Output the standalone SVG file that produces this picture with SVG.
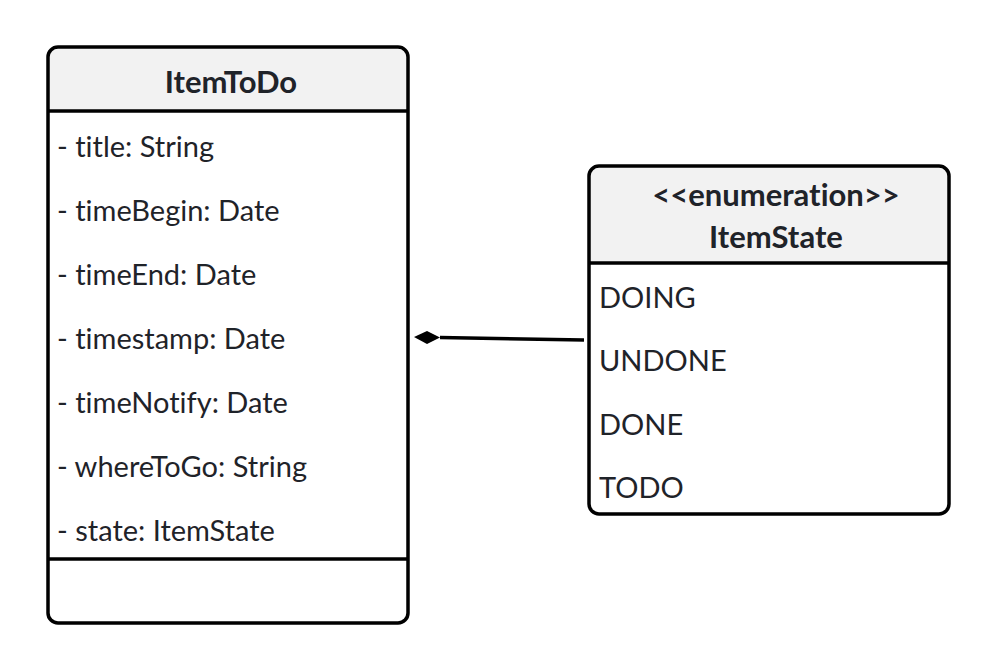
<svg xmlns="http://www.w3.org/2000/svg" width="998" height="672" viewBox="0 0 998 672">
<style>
.box{fill:none;stroke:#000;stroke-width:3.5}
.hdr{fill:#f2f2f2}
.div{stroke:#000;stroke-width:3.5}
text{font-family:Lato,"Noto Sans",sans-serif;font-size:29px;fill:#1f2329;font-variant-ligatures:none;font-feature-settings:"liga" 0}
.b{font-weight:bold;text-anchor:middle;font-size:31px}
</style>
<rect width="998" height="672" fill="#ffffff"/>
<g id="ItemToDo">
<path class="hdr" d="M58 47 H398 Q408 47 408 57 V111 H48 V57 Q48 47 58 47 Z"/>
<rect class="box" x="48" y="47" width="360" height="576" rx="10"/>
<line class="div" x1="48" y1="111" x2="408" y2="111"/>
<line class="div" x1="48" y1="559" x2="408" y2="559"/>
<text class="b" x="231" y="93">ItemToDo</text>
<text x="57" y="157">- title: String</text>
<text x="57" y="221">- timeBegin: Date</text>
<text x="57" y="285">- timeEnd: Date</text>
<text x="57" y="349">- timestamp: Date</text>
<text x="57" y="413">- timeNotify: Date</text>
<text x="57" y="477">- whereToGo: String</text>
<text x="57" y="541">- state: ItemState</text>
</g>
<g id="ItemState">
<path class="hdr" d="M599 166 H939 Q949 166 949 176 V263 H589 V176 Q589 166 599 166 Z"/>
<rect class="box" x="589" y="166" width="360" height="348" rx="10"/>
<line class="div" x1="589" y1="263" x2="949" y2="263"/>
<text class="b" x="776" y="206">&lt;&lt;enumeration&gt;&gt;</text>
<text class="b" x="776" y="248">ItemState</text>
<text x="599" y="308">DOING</text>
<text x="599" y="371">UNDONE</text>
<text x="599" y="435">DONE</text>
<text x="599" y="498">TODO</text>
</g>
<g id="connectors">
<line x1="440" y1="337.5" x2="584" y2="340" stroke="#000" stroke-width="3.5"/>
<polygon points="414,337 427,331 440,337.5 427,344" fill="#000"/>
</g>
</svg>
